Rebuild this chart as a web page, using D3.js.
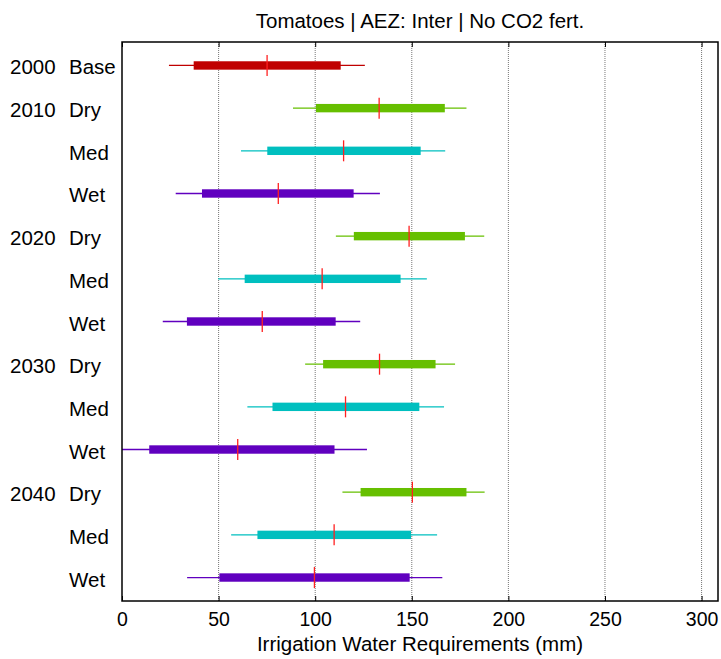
<!DOCTYPE html>
<html>
<head>
<meta charset="utf-8">
<script src="https://cdn.jsdelivr.net/npm/d3@7"></script>
<style>
  html, body { margin: 0; padding: 0; background: #fff; }
  text { font-family: "Liberation Sans", Arial, Helvetica, sans-serif; fill: #000; }
</style>
</head>
<body>
<svg id="chart" width="721" height="659"></svg>
<script>
// Irrigation water requirement ranges per period and climate scenario
const years     = ["2000", "2010", "", "", "2020", "", "", "2030", "", "", "2040", "", ""];
const scenarios = ["Base", "Dry", "Med", "Wet", "Dry", "Med", "Wet", "Dry", "Med", "Wet", "Dry", "Med", "Wet"];
const minVals   = [24.3, 88.5, 61.6, 27.8, 110.7, 49.8, 21.1, 94.8, 64.9, 0.0, 114.1, 56.5, 33.7];
const q1Vals    = [37.1, 100.4, 75.2, 41.4, 120.0, 63.5, 33.6, 104.1, 77.9, 14.1, 123.5, 70.1, 50.4];
const medVals   = [75.1, 133.1, 114.7, 80.9, 148.6, 103.6, 72.6, 133.3, 115.7, 59.9, 150.3, 109.8, 99.6];
const q3Vals    = [113.2, 167.1, 154.6, 119.9, 177.5, 144.2, 110.6, 162.3, 153.9, 110.0, 178.3, 149.6, 148.9];
const maxVals   = [125.7, 178.3, 167.3, 133.5, 187.5, 157.8, 123.3, 172.4, 166.7, 126.8, 187.7, 163.1, 165.8];
const xTicks    = [0, 50, 100, 150, 200, 250, 300];

const scenarioColor = { Base: "#C00000", Dry: "#66BF00", Med: "#00BFBF", Wet: "#6000BF" };

const rows = scenarios.map((s, i) => ({
  idx: i + 1, year: years[i], scen: s,
  min: minVals[i], q1: q1Vals[i], med: medVals[i], q3: q3Vals[i], max: maxVals[i]
}));

const svg = d3.select("#chart");
const L = 122, R = 718, T = 42, B = 601;

const x = d3.scaleLinear().domain([0, 308.5]).range([L, R]);
const y = d3.scaleLinear().domain([0.45, 13.55]).range([T, B]);

svg.append("defs").append("clipPath").attr("id", "plotClip")
  .append("rect").attr("x", L).attr("y", T).attr("width", R - L).attr("height", B - T);

// dotted vertical grid
svg.append("g").selectAll("line").data(xTicks.filter(t => t > 0)).join("line")
  .attr("x1", d => x(d)).attr("x2", d => x(d))
  .attr("y1", T).attr("y2", B)
  .attr("stroke", "#777").attr("stroke-width", 1)
  .attr("stroke-dasharray", "1,1");

const plot = svg.append("g").attr("clip-path", "url(#plotClip)");

// whiskers
plot.selectAll("line.whisker").data(rows).join("line")
  .attr("class", "whisker")
  .attr("x1", d => x(d.min)).attr("x2", d => x(d.max))
  .attr("y1", d => y(d.idx)).attr("y2", d => y(d.idx))
  .attr("stroke", d => scenarioColor[d.scen]).attr("stroke-width", 1.3);

// interquartile bars
plot.selectAll("rect.box").data(rows).join("rect")
  .attr("class", "box")
  .attr("x", d => x(d.q1)).attr("width", d => x(d.q3) - x(d.q1))
  .attr("y", d => y(d.idx) - 4.2).attr("height", 8.4)
  .attr("fill", d => scenarioColor[d.scen]);

// medians
plot.selectAll("line.median").data(rows).join("line")
  .attr("class", "median")
  .attr("x1", d => x(d.med)).attr("x2", d => x(d.med))
  .attr("y1", d => y(d.idx) - 10.5).attr("y2", d => y(d.idx) + 10.5)
  .attr("stroke", "#FF2020").attr("stroke-width", 1.3);

// axis box
svg.append("rect").attr("x", L).attr("y", T).attr("width", R - L).attr("height", B - T)
  .attr("fill", "none").attr("stroke", "#000").attr("stroke-width", 1.5);

// x axis at the bottom, inward ticks, and matching ticks at the top
const xAxisB = d3.axisBottom(x).tickValues(xTicks).tickSize(-5).tickPadding(12).tickFormat(d3.format("d"));
const gB = svg.append("g").attr("transform", `translate(0,${B})`).call(xAxisB);
gB.select(".domain").remove();
gB.selectAll(".tick line").attr("stroke", "#000");
gB.selectAll(".tick text").attr("font-size", 19.5).attr("font-family", "Liberation Sans, Arial, sans-serif")
  .attr("dy", "0.75em").attr("y", 10);

const xAxisT = d3.axisTop(x).tickValues(xTicks).tickSize(-5).tickFormat("");
const gT = svg.append("g").attr("transform", `translate(0,${T})`).call(xAxisT);
gT.select(".domain").remove();
gT.selectAll(".tick line").attr("stroke", "#000");

// row labels
const lab = svg.append("g").attr("font-size", 20.5);
lab.selectAll("text.year").data(rows.filter(d => d.year)).join("text")
  .attr("class", "year").attr("x", 10).attr("y", d => y(d.idx) + 9).text(d => d.year);
lab.selectAll("text.scen").data(rows).join("text")
  .attr("class", "scen").attr("x", 69).attr("y", d => y(d.idx) + 9).text(d => d.scen);

// title and axis label
svg.append("text").attr("x", (L + R) / 2).attr("y", 28).attr("text-anchor", "middle")
  .attr("font-size", 20.5).text("Tomatoes | AEZ: Inter | No CO2 fert.");
svg.append("text").attr("x", (L + R) / 2).attr("y", 651).attr("text-anchor", "middle")
  .attr("font-size", 20.5).text("Irrigation Water Requirements (mm)");
</script>
</body>
</html>
